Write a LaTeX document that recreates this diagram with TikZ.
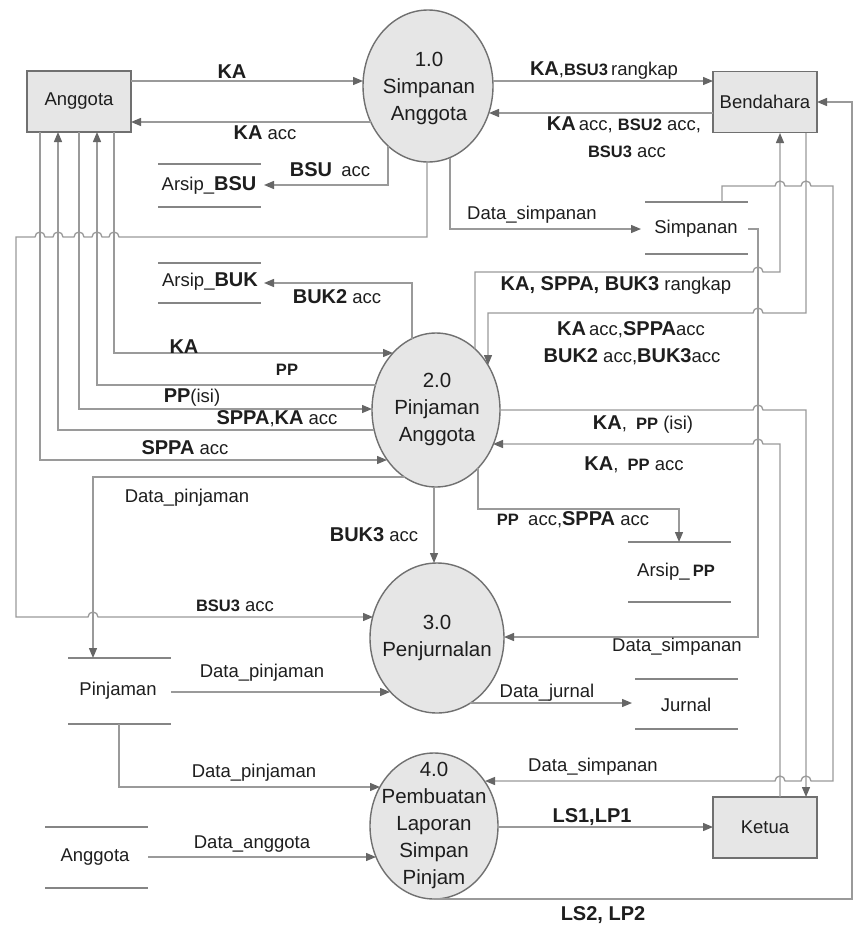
\documentclass[tikz,border=0pt]{standalone}
\usepackage{fontspec}
\setmainfont{Liberation Sans}
\usetikzlibrary{arrows.meta,shapes.geometric}
\definecolor{linegray}{HTML}{9A9A9A}
\definecolor{tipgray}{HTML}{666666}
\definecolor{edgegray}{HTML}{707070}
\definecolor{fillgray}{HTML}{E6E6E6}
\definecolor{txt}{HTML}{1E1E1E}

% bold label parts (large and small)
\newcommand\lbf[1]{{\fontsize{20}{22}\selectfont\bfseries #1}}
\newcommand\lbs[1]{{\fontsize{16.5}{20}\selectfont\bfseries #1}}
% line jumps on horizontal runs (moving right / moving left)
\newcommand\hopr[2]{-- (#1-5,#2) arc[start angle=180,end angle=0,radius=5pt]}
\newcommand\hopl[2]{-- (#1+5,#2) arc[start angle=0,end angle=180,radius=5pt]}

\begin{document}
\begin{tikzpicture}[x=1pt,y=-1pt,
  every node/.style={text=txt, font=\fontsize{18.5}{27}\selectfont},
  entity/.style={draw=edgegray, line width=1.6pt, fill=fillgray,
    minimum width=104pt, minimum height=61pt, inner sep=0pt},
  proc/.style={ellipse, draw=edgegray, line width=1.4pt, fill=fillgray, inner sep=0pt},
  ptext/.style={align=center, inner sep=0pt, font=\fontsize{20.5}{27}\selectfont},
  flow/.style={draw=linegray, line width=1.3pt,
    -{Triangle[length=10pt,width=8pt,color=tipgray]}},
  storeline/.style={draw=edgegray!85, line width=1.4pt},
  lbl/.style={inner sep=0pt},
]
\useasboundingbox[fill=white] (0,0) rectangle (859,929);

% ---------- external entities ----------
\node[entity] (ang) at (79,101.5) {Anggota};
\node[entity] (ben) at (765,102) {Bendahara};
\node[entity] (ket) at (765,827.5) {Ketua};

% ---------- processes ----------
\node[proc, minimum width=130pt, minimum height=152pt] (p1) at (428,86) {};
\node[ptext] (t1) at (429,88) {1.0\\Simpanan\\Anggota};
\node[proc, minimum width=128pt, minimum height=154pt] (p2) at (436,410) {};
\node[ptext] (t2) at (437,409) {2.0\\Pinjaman\\Anggota};
\node[proc, minimum width=134pt, minimum height=150pt] (p3) at (437,638) {};
\node[ptext] (t3) at (437,638) {3.0\\Penjurnalan};
\node[proc, minimum width=128pt, minimum height=146pt] (p4) at (434,826) {};
\node[ptext] (t4) at (434,825) {4.0\\Pembuatan\\Laporan\\Simpan\\Pinjam};

% ---------- data stores ----------
\draw[storeline] (158,164) -- (261,164) (158,207) -- (261,207);
\node (sbsu) at (209,185) {Arsip\_\lbf{BSU}};
\draw[storeline] (158,263) -- (261,263) (158,303) -- (261,303);
\node (sbuk) at (210,282) {Arsip\_\lbf{BUK}};
\draw[storeline] (645,202) -- (748,202) (645,254) -- (748,254);
\node (ssim) at (696,229) {Simpanan};
\draw[storeline] (628,542) -- (731,542) (628,602) -- (731,602);
\node (spp) at (676,572) {Arsip\_\,\lbs{PP}};
\draw[storeline] (68,658) -- (171,658) (68,724) -- (171,724);
\node (spin) at (118,691) {Pinjaman};
\draw[storeline] (635,679) -- (738,679) (635,729) -- (738,729);
\node (sjur) at (686,705) {Jurnal};
\draw[storeline] (45,827) -- (148,827) (45,888) -- (148,888);
\node (sang) at (95,857) {Anggota};

% ---------- connector end points ----------
\coordinate (angKAo) at (131,81);    \coordinate (p1KAi) at (363,81);
\coordinate (p1KAo) at (371,122);    \coordinate (angKAi) at (131,122);
\coordinate (p1Bo) at (493,81);      \coordinate (benAi) at (713,81);
\coordinate (benAo) at (713,113);    \coordinate (p1Bi) at (489,113);
\coordinate (p1bsu) at (388,146);    \coordinate (bsuIn) at (264,185);
\coordinate (p1ds) at (450,157.5);   \coordinate (simIn) at (641,229);
\coordinate (p1j) at (427,162);      \coordinate (p3bsu) at (373,617);
\coordinate (angA) at (114,132);     \coordinate (p2A) at (393,353);
\coordinate (p2B) at (375.5,385);    \coordinate (angB) at (97,132);
\coordinate (angC) at (79,132);      \coordinate (p2C) at (372,409);
\coordinate (p2D) at (374,430);      \coordinate (angD) at (58,132);
\coordinate (angE) at (40,132);      \coordinate (p2E) at (387,460);
\coordinate (p2buk) at (412,339);    \coordinate (bukIn) at (264,283);
\coordinate (p2dp) at (404.5,477);   \coordinate (pinIn) at (93,658);
\coordinate (p2s) at (434,487);      \coordinate (p3n) at (434,563);
\coordinate (p2pp) at (478,468);     \coordinate (ppIn) at (679,542);
\coordinate (p2top) at (475,349);    \coordinate (benB) at (780,133);
\coordinate (benC) at (806,133);     \coordinate (p2in) at (488,365);
\coordinate (p2e) at (500,410);      \coordinate (ketA) at (806,797);
\coordinate (ketB) at (780,797);     \coordinate (p2e2) at (493,444);
\coordinate (simTop) at (722,202);   \coordinate (p4ds) at (485,781);
\coordinate (simR) at (748,229);     \coordinate (p3ds) at (504,637);
\coordinate (p4s) at (434,899);      \coordinate (benR) at (817,102);
\coordinate (p3j) at (470,703);      \coordinate (jurIn) at (632,703);
\coordinate (pinR) at (171,692);     \coordinate (p3dp) at (390,692);
\coordinate (pinB) at (119,724);     \coordinate (p4dp) at (380,787);
\coordinate (sangR) at (148,857);    \coordinate (p4da) at (376,857);
\coordinate (p4e) at (498,827);      \coordinate (ketW) at (713,827);

% ---------- flows around 1.0 ----------
\draw[flow] (angKAo) -- (p1KAi);
\draw[flow] (p1KAo) -- (angKAi);
\draw[flow] (p1Bo) -- (benAi);
\draw[flow] (benAo) -- (p1Bi);
\draw[flow] (p1bsu) |- (bsuIn);
\draw[flow] (p1ds) |- (simIn);
\draw[flow] (p1j) -- (427,237) \hopl{114}{237} \hopl{97}{237} \hopl{79}{237}
  \hopl{58}{237} \hopl{40}{237} -- (16,237) -- (16,617) \hopr{93}{617} -- (p3bsu);

% ---------- flows between Anggota and 2.0 ----------
\draw[flow] (angA) |- (p2A);
\draw[flow] (p2B) -| (angB);
\draw[flow] (angC) |- (p2C);
\draw[flow] (p2D) -| (angD);
\draw[flow] (angE) |- (p2E);

% ---------- flows around 2.0 ----------
\draw[flow] (p2buk) |- (bukIn);
\draw[flow] (p2dp) -| (pinIn);
\draw[flow] (p2s) -- (p3n);
\draw[flow] (p2pp) -- (478,509) -| (ppIn);
\draw[flow] (p2top) -- (475,272) \hopr{758}{272} -- (780,272) -- (benB);
\draw[flow] (benC) -- (806,313) \hopl{758}{313} -- (488,313) -- (p2in);
\draw[flow] (p2e) \hopr{758}{410} -- (806,410) -- (ketA);
\draw[flow] (ketB) -- (780,444) \hopl{758}{444} -- (p2e2);

% ---------- flows from Simpanan ----------
\draw[flow] (simTop) -- (722,186) \hopr{780}{186} \hopr{806}{186} -- (833,186)
  -- (833,781) \hopl{806}{781} \hopl{780}{781} -- (p4ds);
\draw[flow] (simR) -- (758,229) -- (758,637) -- (p3ds);

% ---------- flows around 3.0 and 4.0 ----------
\draw[flow] (p4s) -- (852,899) -- (852,102) -- (benR);
\draw[flow] (p3j) -- (jurIn);
\draw[flow] (pinR) -- (p3dp);
\draw[flow] (pinB) |- (p4dp);
\draw[flow] (sangR) -- (p4da);
\draw[flow] (p4e) -- (ketW);

% ---------- flow labels ----------
\node[lbl] (l1) at (232,72) {\lbf{KA}};
\node[lbl] (l2) at (265,133) {\lbf{KA} acc};
\node[lbl] (l3) at (604,71) {\lbf{KA},\lbs{BSU3}\,rangkap};
\node[lbl] (l4) at (624,125) {\lbf{KA}\,acc, \lbs{BSU2} acc,};
\node[lbl] (l5) at (627,152) {\lbs{BSU3} acc};
\node[lbl] (l6) at (330,170) {\lbf{BSU}\enspace acc};
\node[lbl] (l7) at (532,215) {Data\_simpanan};
\node[lbl] (l8) at (337,297) {\lbf{BUK2} acc};
\node[lbl] (l9) at (616,285) {\lbf{KA, SPPA, BUK3} rangkap};
\node[lbl] (l10) at (631,330) {\lbf{KA}\,acc,\lbf{SPPA}acc};
\node[lbl] (l11) at (632,357) {\lbf{BUK2} acc,\lbf{BUK3}acc};
\node[lbl] (l12) at (184,347) {\lbf{KA}};
\node[lbl] (l13) at (287,370) {\lbs{PP}};
\node[lbl] (l14) at (192,398) {\lbf{PP}(isi)};
\node[lbl] (l15) at (277,419) {\lbf{SPPA},\lbf{KA} acc};
\node[lbl] (l16) at (185,448) {\lbf{SPPA} acc};
\node[lbl] (l17) at (187,498) {Data\_pinjaman};
\node[lbl] (l18) at (374,535) {\lbf{BUK3} acc};
\node[lbl] (l19) at (235,606) {\lbs{BSU3} acc};
\node[lbl] (l20) at (643,425) {\lbf{KA},\enspace\lbs{PP} (isi)};
\node[lbl] (l21) at (634,465) {\lbf{KA},\enspace\lbs{PP} acc};
\node[lbl] (l22) at (573,520) {\lbs{PP}\enspace acc,\lbf{SPPA} acc};
\node[lbl] (l23) at (677,647) {Data\_simpanan};
\node[lbl] (l24) at (262,673) {Data\_pinjaman};
\node[lbl] (l25) at (547,693) {Data\_jurnal};
\node[lbl] (l26) at (254,773) {Data\_pinjaman};
\node[lbl] (l27) at (593,767) {Data\_simpanan};
\node[lbl] (l28) at (592,817) {\lbf{LS1,LP1}};
\node[lbl] (l29) at (252,844) {Data\_anggota};
\node[lbl] (l30) at (603,915) {\lbf{LS2, LP2}};
\end{tikzpicture}
\end{document}
